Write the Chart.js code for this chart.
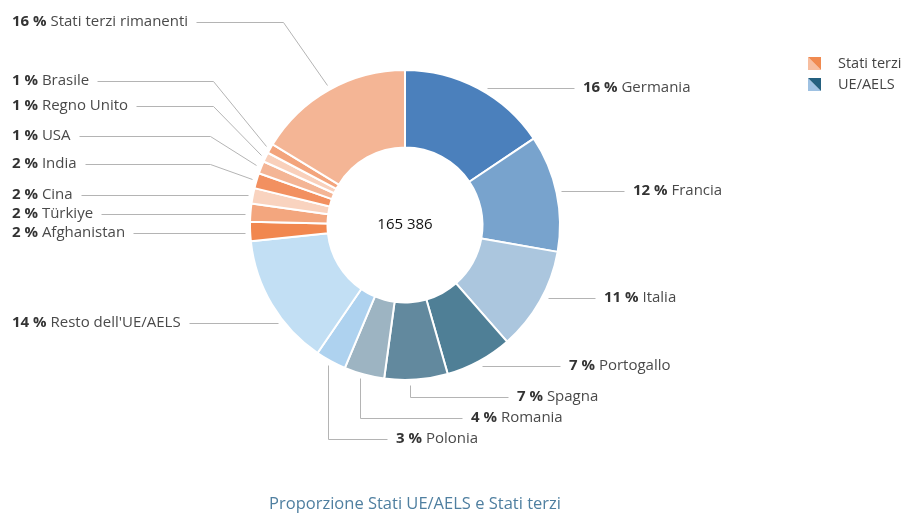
<!DOCTYPE html>
<html>
<head>
<meta charset="utf-8">
<script src="https://cdn.jsdelivr.net/npm/chart.js@4.4.1/dist/chart.umd.min.js"></script>
<style>
html,body{margin:0;padding:0;background:#fff;}
#wrap{position:relative;width:905px;height:513px;}
</style>
</head>
<body>
<div id="wrap"><canvas id="c" width="905" height="513"></canvas></div>
<script>
// ---- data ----
const categories = ["Germania","Francia","Italia","Portogallo","Spagna","Romania","Polonia","Resto dell'UE/AELS",
  "Afghanistan","Türkiye","Cina","India","USA","Regno Unito","Brasile","Stati terzi rimanenti"];
const shares = [15.6,12.2,10.8,7.0,6.6,4.2,3.2,13.8, 2.0,1.9,1.6,1.6,1.3,1.0,1.0,16.3];
const pctLabels = ["16 %","12 %","11 %","7 %","7 %","4 %","3 %","14 %","2 %","2 %","2 %","2 %","1 %","1 %","1 %","16 %"];
const groups = ["UE/AELS","UE/AELS","UE/AELS","UE/AELS","UE/AELS","UE/AELS","UE/AELS","UE/AELS",
  "Stati terzi","Stati terzi","Stati terzi","Stati terzi","Stati terzi","Stati terzi","Stati terzi","Stati terzi"];
const legendLabels = ["Stati terzi","UE/AELS"];
const totalLabel = "165 386";
const titleText = "Proporzione Stati UE/AELS e Stati terzi";

// ---- styles ----
const colors = ["#4b80bc","#78a3cd","#abc6de","#4f7f96","#62899e","#9db4c2","#aed2ef","#c2dff4",
  "#f1874f","#f3a67e","#f9d3bf","#f29060","#f4b595","#f9d0bb","#f3a47c","#f4b595"];
const legendColors = [["#f08a50","#f7bea0"],["#24607f","#9ec1e2"]];
// label layout: tx,ty text anchor; side; type: h (horizontal), v (vertical then horizontal), d (diagonal then horizontal); at = position along arc
const labelLayout = [
  {tx:583,ty:88,side:"r",type:"h"},
  {tx:633,ty:191,side:"r",type:"h"},
  {tx:604,ty:298,side:"r",type:"h"},
  {tx:569,ty:366,side:"r",type:"h"},
  {tx:517,ty:397,side:"r",type:"v",at:0.6},
  {tx:471,ty:418,side:"r",type:"v",at:0.58},
  {tx:396,ty:439,side:"r",type:"v",at:0.53},
  {tx:12,ty:323,side:"l",type:"h"},
  {tx:12,ty:233,side:"l",type:"h"},
  {tx:12,ty:214,side:"l",type:"h"},
  {tx:12,ty:195,side:"l",type:"h"},
  {tx:12,ty:164,side:"l",type:"d",ex:210},
  {tx:12,ty:136,side:"l",type:"d",ex:210},
  {tx:12,ty:106,side:"l",type:"d",ex:213},
  {tx:12,ty:81,side:"l",type:"d",ex:213},
  {tx:12,ty:22,side:"l",type:"d",ex:283}
];
const FONT = '"Open Sans", "Noto Sans", sans-serif';
const FS = 15;

const labelsPlugin = {
  id: "labelsPlugin",
  afterDraw(chart) {
    const ctx = chart.ctx;
    const arcs = chart.getDatasetMeta(0).data;
    ctx.save();
    ctx.textBaseline = "middle";
    arcs.forEach((arc, i) => {
      const p = arc.getProps(["x","y","startAngle","endAngle","outerRadius"], true);
      const L = labelLayout[i];
      const R = p.outerRadius + 5;
      const f = L.at === undefined ? 0.5 : L.at;
      const ang = p.startAngle + (p.endAngle - p.startAngle) * f;
      ctx.font = "bold " + FS + "px " + FONT;
      const pct = pctLabels[i];
      const wPct = ctx.measureText(pct).width;
      ctx.font = FS + "px " + FONT;
      const wName = ctx.measureText(" " + categories[i]).width;
      const wTot = wPct + wName;
      const ly = L.ty - 0.5;
      let pts = [];
      const textEnd = L.side === "r" ? L.tx - 9 : L.tx + wTot + 8;
      if (L.type === "h") {
        const dy = ly - p.y;
        const dx = Math.sqrt(Math.max(R*R - dy*dy, 0));
        const sx = L.side === "r" ? p.x + dx : p.x - dx;
        pts = [[sx, ly],[textEnd, ly]];
      } else if (L.type === "v") {
        const sx = p.x + R * Math.cos(ang), sy = p.y + R * Math.sin(ang);
        pts = [[sx, sy],[sx, ly],[textEnd, ly]];
      } else {
        const sx = p.x + R * Math.cos(ang), sy = p.y + R * Math.sin(ang);
        pts = [[sx, sy],[L.ex, ly],[textEnd, ly]];
      }
      ctx.strokeStyle = "#b4b4b4";
      ctx.lineWidth = 1;
      ctx.beginPath();
      pts.forEach((q, k) => { const X = Math.round(q[0]) + 0.5, Y = Math.round(q[1]) + 0.5; k ? ctx.lineTo(X, Y) : ctx.moveTo(X, Y); });
      ctx.stroke();
      ctx.textAlign = "left";
      ctx.font = "bold " + FS + "px " + FONT;
      ctx.fillStyle = "#333";
      ctx.fillText(pct, L.tx, L.ty);
      ctx.font = FS + "px " + FONT;
      ctx.fillStyle = "#4a4a4a";
      ctx.fillText(" " + categories[i], L.tx + wPct, L.ty);
    });
    // center total
    const p0 = arcs[0].getProps(["x","y"], true);
    ctx.font = "15px " + FONT;
    ctx.fillStyle = "#111";
    ctx.textAlign = "center";
    ctx.fillText(totalLabel, p0.x, p0.y);
    // legend
    legendLabels.forEach((t, k) => {
      const x = 808, y = 57 + k * 21, s = 13;
      ctx.fillStyle = legendColors[k][1];
      ctx.beginPath(); ctx.moveTo(x, y); ctx.lineTo(x, y + s); ctx.lineTo(x + s, y + s); ctx.closePath(); ctx.fill();
      ctx.fillStyle = legendColors[k][0];
      ctx.beginPath(); ctx.moveTo(x, y); ctx.lineTo(x + s, y); ctx.lineTo(x + s, y + s); ctx.closePath(); ctx.fill();
      ctx.fillStyle = "#444";
      ctx.textAlign = "left";
      ctx.font = "14.5px " + FONT;
      ctx.fillText(t, 838, y + 7);
    });
    // bottom title
    ctx.font = "16.5px " + FONT;
    ctx.fillStyle = "#4f7fa0";
    ctx.textAlign = "center";
    ctx.fillText(titleText, 415, 504);
    ctx.restore();
  }
};

new Chart(document.getElementById("c"), {
  type: "doughnut",
  data: {
    labels: categories,
    datasets: [{
      data: shares,
      backgroundColor: colors,
      borderColor: "#ffffff",
      borderWidth: 2,
      hoverOffset: 0
    }]
  },
  options: {
    responsive: false,
    animation: false,
    cutout: "50%",
    layout: { padding: { left: 249, right: 344, top: 69, bottom: 132 } },
    plugins: { legend: { display: false }, tooltip: { enabled: false }, title: { display: false } }
  },
  plugins: [labelsPlugin]
});
</script>
</body>
</html>
